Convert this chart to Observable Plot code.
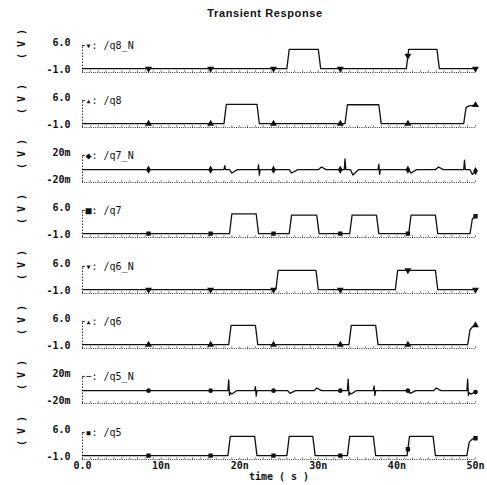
<!DOCTYPE html>
<html><head><meta charset="utf-8">
<script src="https://cdn.jsdelivr.net/npm/d3@7"></script>
<script src="https://cdn.jsdelivr.net/npm/@observablehq/plot@0.6"></script>
<style>
html,body{margin:0;padding:0;background:#fff;}
#chart{position:relative;width:487px;height:485px;overflow:hidden;background:#fff;}
#title{position:absolute;top:7px;left:0;width:530px;text-align:center;font:bold 11px "Liberation Sans",Arial,sans-serif;letter-spacing:0.6px;color:#111;}
.panel{position:absolute;left:0;}
</style></head><body><div id="chart"><div id="title">Transient Response</div></div>
<script>
// ---- data (time in ns, value in V or mV) ----
const signalNames = ["/q8_N", "/q8", "/q7_N", "/q7", "/q6_N", "/q6", "/q5_N", "/q5"];
const legendGlyphs = ["▾", "▴", "◆", "■", "▾", "▴", "−", "▪"];
const markerSymbols = ["triangle", "triangle", "diamond", "square", "triangle", "triangle", "circle", "square"];
const markerRotate = [180, 0, 0, 0, 180, 0, 0, 0];
const units = ["V", "V", "mV", "V", "V", "V", "mV", "V"];
const vTickValues = [-1, 6];
const vTickLabels = ["-1.0", "6.0"];
const mvTickValues = [-20, 20];
const mvTickLabels = ["-20m", "20m"];
const xTickValues = [0, 10, 20, 30, 40, 50];
const xTickLabels = ["0.0", "10n", "20n", "30n", "40n", "50n"];
const markerTimes = [8.4, 16.3, 24.3, 32.8, 41.4, 50];

const q8N = [[0,0],[26.0,0],[26.3,5],[30.0,5],[30.3,0],[41.2,0],[41.5,5],[45.1,5],[45.4,0],[50,0]];
const q8 = [[0,0],[18.0,0],[18.3,5],[22.2,5],[22.5,0],[33.4,0],[33.7,4.9],[37.7,4.9],[38.0,0],[48.5,0],[48.8,4.2],[49.2,4.6],[50,4.8]];
const q7N = [[0,-1],[18.0,-1],[18.1,5],[18.2,-1],[18.7,-1],[19.0,-6],[19.7,-1],[22.3,-1],[22.4,6],[22.5,-9],[22.6,-1],[26.3,-1],[26.6,-6],[27.4,-1],[30.0,-1],[30.4,3],[31.0,-1],[33.3,-1],[33.4,15],[33.5,-1],[34.1,-1],[34.4,-9],[35.1,-1],[37.6,-1],[37.7,7],[37.8,-8],[37.9,-1],[41.5,-1],[41.8,-6],[42.5,-1],[44.9,-1],[45.3,3],[45.9,-1],[48.5,-1],[48.6,13],[48.7,-1],[49.3,-1],[49.6,-8],[50,-3]];
const q7 = [[0,0],[18.7,0],[19.0,5.1],[22.1,5.1],[22.4,0],[26.3,0],[26.6,4.8],[29.8,4.8],[30.1,0],[34.0,0],[34.3,4.8],[37.4,4.8],[37.7,0],[41.5,0],[41.8,4.8],[44.9,4.8],[45.2,0],[49.3,0],[49.6,3.8],[50,4.5]];
const q6N = [[0,0],[24.6,0],[24.9,5],[29.7,5],[30.0,0],[39.8,0],[40.1,5],[44.9,5],[45.2,0],[50,0]];
const q6 = [[0,0],[18.6,0],[18.9,5],[22.0,5],[22.3,0],[33.9,0],[34.2,5],[37.3,5],[37.6,0],[49.0,0],[49.3,3.8],[49.6,4.6],[50,5.0]];
const q5N = [[0,-1],[18.5,-1],[18.6,15],[18.7,-8],[18.8,-4],[19.0,-6],[19.6,-1],[21.9,-1],[22.0,5],[22.1,-9],[22.2,-1],[26.1,-1],[26.4,-5],[27.1,-1],[29.5,-1],[29.8,3],[30.4,-1],[33.7,-1],[33.8,16],[33.9,-8],[34.0,-4],[34.2,-6],[34.8,-1],[37.0,-1],[37.1,6],[37.2,-8],[37.3,-1],[41.4,-1],[41.7,-5],[42.4,-1],[44.7,-1],[45.0,3],[45.6,-1],[48.9,-1],[49.0,16],[49.1,-8],[49.2,-4],[49.4,-6],[50,-3]];
const q5 = [[0,0],[18.5,0],[18.8,5],[21.9,5],[22.2,0],[26.0,0],[26.3,5],[29.3,5],[29.6,0],[33.7,0],[34.0,5],[37.0,5],[37.3,0],[41.3,0],[41.6,5],[44.6,5],[44.9,0],[48.9,0],[49.2,3.5],[49.6,4.3],[50,4.5]];
const waves = [q8N, q8, q7N, q7, q6N, q6, q5N, q5];

// ---- layout ----
const panelTop0 = 29.5, panelStep = 55.3;
const FONT = '"DejaVu Sans Mono", "Liberation Mono", monospace';
const ink = "#111";

function valueAt(data, t) {
  for (let k = 1; k < data.length; k++) {
    const [t0, v0] = data[k - 1], [t1, v1] = data[k];
    if (t <= t1) return t1 === t0 ? v1 : v0 + (v1 - v0) * (t - t0) / (t1 - t0);
  }
  return data[data.length - 1][1];
}

const minorTicks = d3.range(0, 50.01, 1);
const chart = document.getElementById("chart");

signalNames.forEach((name, i) => {
  const last = i === signalNames.length - 1;
  const isMv = units[i] === "mV";
  const ys = isMv ? mvTickValues : vTickValues;
  const yl = isMv ? mvTickLabels : vTickLabels;
  const span = ys[1] - ys[0];
  const data = waves[i].map(([t, v]) => ({t, v}));
  const marks = [
    Plot.ruleY([ys[0]], {stroke: "#333", strokeDasharray: "1,1.2", strokeWidth: 1}),
    Plot.ruleX(minorTicks, {x: d => d, y1: ys[0], y2: ys[0] + span * 0.07, stroke: "#555", strokeWidth: 0.7}),
    Plot.ruleX([0], {y1: ys[0], y2: ys[1], stroke: "#333", strokeDasharray: "1.5,1.5", strokeWidth: 1}),
    Plot.ruleY([ys[1]], {x1: 0, x2: 0.35, stroke: "#333", strokeWidth: 1.2}),
    Plot.line(data, {x: "t", y: "v", stroke: ink, strokeWidth: 1.3}),
    Plot.dot(markerTimes.map(t => ({t, v: valueAt(waves[i], t)})), {x: "t", y: "v", symbol: markerSymbols[i], rotate: markerRotate[i], r: 1.6, fill: ink, stroke: ink}),
    Plot.axisY({ticks: ys, tickFormat: d => (d === ys[1] ? yl[1] : yl[0]), tickSize: 0, tickPadding: 12, dy: -2.5, fontWeight: "bold", fontSize: 10, label: null}),
    Plot.text(["( V )"], {frameAnchor: "left", dx: -61, rotate: -90, fontWeight: "bold", fontSize: 10, fill: ink}),
    Plot.text([legendGlyphs[i] + ": " + name], {frameAnchor: "top-left", dx: 3, dy: -4, textAnchor: "start", fontSize: 10, fill: ink})
  ];
  if (last) {
    marks.push(Plot.axisX({ticks: xTickValues, tickFormat: d => xTickLabels[xTickValues.indexOf(d)], tickSize: 0, tickPadding: 2, fontWeight: "bold", fontSize: 10, label: null}));
    marks.push(Plot.text(["time ( s )"], {frameAnchor: "bottom", dy: 20, fontWeight: "bold", fontSize: 10, fill: ink}));
  }
  const svg = Plot.plot({
    width: 487,
    height: last ? 69 : 55,
    marginLeft: 82,
    marginRight: 12,
    marginTop: 15,
    marginBottom: last ? 27 : 13,
    x: {domain: [0, 50], axis: last ? undefined : null},
    y: {domain: ys},
    style: {fontFamily: FONT, color: ink, background: "transparent", overflow: "visible"},
    marks
  });
  svg.classList.add("panel");
  svg.style.top = (panelTop0 + panelStep * i) + "px";
  chart.appendChild(svg);
});
</script></body></html>
